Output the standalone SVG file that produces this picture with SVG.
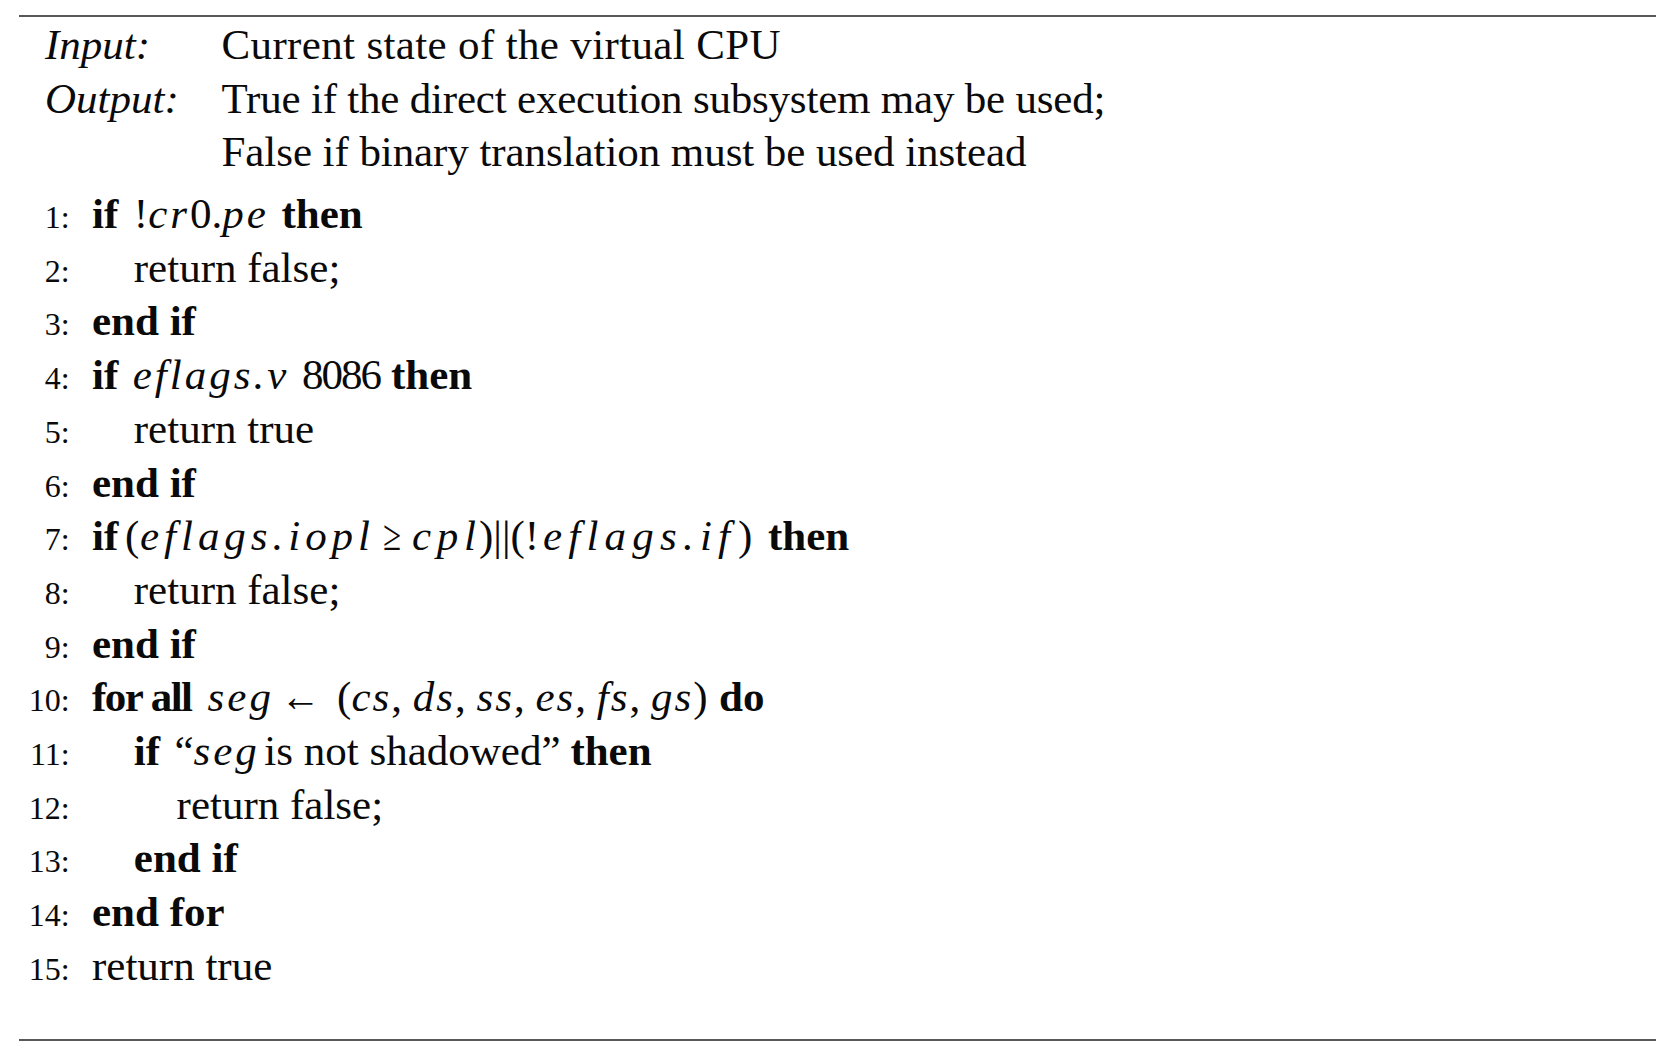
<svg xmlns="http://www.w3.org/2000/svg" width="1678" height="1053" viewBox="0 0 1678 1053">
<style>
text{font-family:"Liberation Serif","Times New Roman",serif;font-size:43px;fill:#0a0a0a}
.n{font-size:32px;text-anchor:end}
.b{font-weight:bold}
.i{font-style:italic}
.m{font-style:italic;letter-spacing:3px}
.m2{font-style:italic;letter-spacing:2px}
.rule{stroke:#222;stroke-width:1.6}
</style>
<rect width="1678" height="1053" fill="#fff"/>
<g id="rules">
<line class="rule" x1="19" y1="16" x2="1656" y2="16"/>
<line class="rule" x1="19" y1="1040" x2="1656" y2="1040"/>
</g>
<g id="header">
<text x="45" y="59" class="i">Input:</text>
<text x="221.5" y="59" textLength="559" lengthAdjust="spacing">Current state of the virtual CPU</text>
<text x="45" y="112.5" class="i">Output:</text>
<text x="221.5" y="112.5" textLength="884" lengthAdjust="spacing">True if the direct execution subsystem may be used;</text>
<text x="221.5" y="166" textLength="805" lengthAdjust="spacing">False if binary translation must be used instead</text>
</g>
<g id="lines">
<text x="69.6" y="228" class="n">1:</text>
<text y="228"><tspan x="92" class="b">if</tspan><tspan x="133.8">!</tspan><tspan class="m">cr</tspan><tspan>0.</tspan><tspan class="m">pe</tspan><tspan x="281.5" class="b">then</tspan></text>
<text x="69.6" y="281.7" class="n">2:</text>
<text x="133.8" y="281.7">return false;</text>
<text x="69.6" y="335.4" class="n">3:</text>
<text x="92" y="335.4" class="b">end if</text>
<text x="69.6" y="389.1" class="n">4:</text>
<text y="389.1"><tspan x="92" class="b">if</tspan><tspan x="132.7" class="m">eflags.v</tspan><tspan x="302" textLength="80" lengthAdjust="spacing">8086</tspan><tspan x="391" class="b">then</tspan></text>
<text x="69.6" y="442.8" class="n">5:</text>
<text x="133.8" y="442.8">return true</text>
<text x="69.6" y="496.5" class="n">6:</text>
<text x="92" y="496.5" class="b">end if</text>
<text x="69.6" y="550.2" class="n">7:</text>
<text y="550.2"><tspan x="92" class="b">if</tspan><tspan x="125">(</tspan><tspan x="140" class="i" textLength="230" lengthAdjust="spacing">eflags.iopl</tspan><tspan x="383" textLength="18" lengthAdjust="spacingAndGlyphs">≥</tspan><tspan x="412" class="i" textLength="64" lengthAdjust="spacing">cpl</tspan><tspan x="479">)||(!</tspan><tspan x="543" class="i" textLength="187" lengthAdjust="spacing">eflags.if</tspan><tspan x="738">)</tspan><tspan x="768" class="b">then</tspan></text>
<text x="69.6" y="603.9" class="n">8:</text>
<text x="133.8" y="603.9">return false;</text>
<text x="69.6" y="657.6" class="n">9:</text>
<text x="92" y="657.6" class="b">end if</text>
<text x="69.6" y="711.3" class="n">10:</text>
<text y="711.3"><tspan x="92" class="b" textLength="101" lengthAdjust="spacing">for all</tspan><tspan x="207.6" class="m">seg</tspan><tspan x="280.4" textLength="40" lengthAdjust="spacingAndGlyphs">←</tspan><tspan x="337.1">(</tspan><tspan class="m2">cs</tspan><tspan>, </tspan><tspan class="m2">ds</tspan><tspan>, </tspan><tspan class="m2">ss</tspan><tspan>, </tspan><tspan class="m2">es</tspan><tspan>, </tspan><tspan class="m2">fs</tspan><tspan>, </tspan><tspan class="m2">gs</tspan><tspan>)</tspan><tspan x="719" class="b">do</tspan></text>
<text x="69.6" y="765" class="n">11:</text>
<text y="765"><tspan x="133.8" class="b">if</tspan><tspan x="174.4">“</tspan><tspan class="m">seg</tspan><tspan x="264.3">is not shadowed”</tspan><tspan x="570.4" class="b">then</tspan></text>
<text x="69.6" y="818.7" class="n">12:</text>
<text x="176.6" y="818.7">return false;</text>
<text x="69.6" y="872.4" class="n">13:</text>
<text x="133.8" y="872.4" class="b">end if</text>
<text x="69.6" y="926.1" class="n">14:</text>
<text x="92" y="926.1" class="b">end for</text>
<text x="69.6" y="979.8" class="n">15:</text>
<text x="92" y="979.8">return true</text>
</g>
</svg>
